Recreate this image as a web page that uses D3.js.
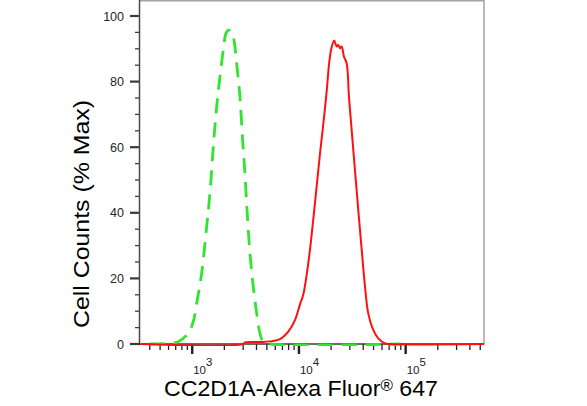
<!DOCTYPE html>
<html>
<head>
<meta charset="utf-8">
<script src="https://cdnjs.cloudflare.com/ajax/libs/d3/7.8.5/d3.min.js"></script>
<style>
  body { margin: 0; background: #fff; }
  text { font-family: "Liberation Sans", Arial, sans-serif; }
</style>
</head>
<body>
<script>
// Histogram values.
// x = fluorescence intensity, y = cell counts in % of max

// isotype / unstained control (green dashed)
var controlX = [400, 596, 739, 917, 1022, 1100, 1225, 1365, 1466, 1574, 1694, 1819, 1953,
                2070, 2175, 2340, 2460, 2607, 2799, 2966, 3118, 3275, 3473, 3731, 4015,
                4310, 4627, 5400, 90000];
var controlY = [0, 0.2, 0.7, 3.3, 6.8, 12.4, 21.5, 35.8, 46, 60, 72.3, 81.5, 89.6,
                94.7, 95.7, 95.2, 92.7, 85.6, 75.4, 62.2, 52, 39.8, 27.7, 17.5, 9.4,
                3.3, 0.7, 0, 0];

// CC2D1A stained sample (red)
var stainedX = [324, 3006, 3118, 4310, 5350, 6635, 7943, 9180, 10210, 10970, 11800, 12680,
                14130, 15740, 16900, 18190, 19240, 20250, 21420, 22550, 23350, 24220,
                25120, 26410, 27980, 29420, 31190, 33490, 35960, 38730, 41590, 44570, 49660,
                55340, 63970, 71250, 542000];
var stainedY = [0, 0, 0.5, 0.6, 0.8, 1.5, 3.8, 7.3, 12, 15, 21, 28.7,
                43, 58, 67, 77, 86, 90.5, 92.5, 90.7, 91.2, 90.2,
                90.7, 87.6, 85.6, 75.4, 65.2, 53, 40.9, 28.7, 17.5, 9.4, 4.3,
                1.7, 0.2, 0, 0];

var yTicks = [0, 20, 40, 60, 80, 100];
var xDecades = [1e3, 1e4, 1e5];
var xDecadeExp = ["3", "4", "5"];

// plot area (note: "top" is taken by window.top)
var pLeft = 140, pRight = 484, pTop = 0, pBottom = 344;

var svg = d3.select("body").append("svg")
    .attr("width", 587)
    .attr("height", 406);

var x = d3.scaleLog()
    .domain([324, 542000])
    .range([pLeft, pRight]);

var y = d3.scaleLinear()
    .domain([0, 100])
    .range([pBottom, 16]);

// clip the curves to the frame
svg.append("clipPath")
    .attr("id", "plotclip")
  .append("rect")
    .attr("x", pLeft)
    .attr("y", pTop)
    .attr("width", pRight - pLeft + 1)
    .attr("height", pBottom - pTop + 2);

// ****************** frame and axes ***************************

// grey frame on top and right
svg.append("path")
    .attr("d", "M " + pLeft + " " + (pTop + 0.75) + " H " + pRight + " V " + pBottom)
    .attr("fill", "none")
    .attr("stroke", "#a3a3a3")
    .attr("stroke-width", 1.5);

// y axis: major ticks every 20, minor every 5
var yMinor = d3.range(0, 105, 5);
svg.selectAll("line.yminor")
    .data(yMinor)
  .enter().append("line")
    .attr("class", "yminor")
    .attr("x1", function(d) { return d % 20 == 0 ? pLeft - 10 : pLeft - 5; })
    .attr("x2", pLeft)
    .attr("y1", function(d) { return y(d); })
    .attr("y2", function(d) { return y(d); })
    .attr("stroke", "#3a3a3a")
    .attr("stroke-width", function(d) { return d % 20 == 0 ? 2.2 : 1.3; });

svg.selectAll("text.ylab")
    .data(yTicks)
  .enter().append("text")
    .attr("class", "ylab")
    .attr("x", pLeft - 16)
    .attr("y", function(d) { return y(d); })
    .attr("dy", "0.36em")
    .attr("text-anchor", "end")
    .attr("font-size", 12.5)
    .attr("fill", "#262626")
    .text(function(d) { return d; });

svg.append("line")
    .attr("x1", pLeft - 0.5).attr("x2", pLeft - 0.5)
    .attr("y1", pTop).attr("y2", pBottom)
    .attr("stroke", "#4a4a4a")
    .attr("stroke-width", 1.5);

// x axis: log ticks, decades longer and thicker
var xt = x.ticks();
svg.selectAll("line.xtick")
    .data(xt)
  .enter().append("line")
    .attr("class", "xtick")
    .attr("x1", function(d) { return x(d); })
    .attr("x2", function(d) { return x(d); })
    .attr("y1", pBottom)
    .attr("y2", function(d) {
        return xDecades.indexOf(d) >= 0 ? pBottom + 10 : pBottom + 6;
    })
    .attr("stroke", "#222")
    .attr("stroke-width", function(d) {
        return xDecades.indexOf(d) >= 0 ? 2.4 : 1.3;
    });

var xl = svg.selectAll("text.xlab")
    .data(xDecades)
  .enter().append("text")
    .attr("class", "xlab")
    .attr("x", function(d) { return x(d) + 1; })
    .attr("y", pBottom + 30)
    .attr("font-size", 11.5)
    .attr("fill", "#222");
xl.append("tspan").text("10");
xl.append("tspan")
    .attr("dy", -8)
    .text(function(d, i) { return xDecadeExp[i]; });

svg.append("line")
    .attr("x1", pLeft - 10).attr("x2", pRight)
    .attr("y1", pBottom).attr("y2", pBottom)
    .attr("stroke", "#3a3a3a")
    .attr("stroke-width", 1.5);

// ****************** curves ***************************

var line = d3.line()
    .x(function(d) { return x(d[0]); })
    .y(function(d) { return y(d[1]); })
    .curve(d3.curveCatmullRom.alpha(0.5));

var plot = svg.append("g").attr("clip-path", "url(#plotclip)");

plot.append("path")
    .datum(d3.zip(controlX, controlY))
    .attr("d", line)
    .attr("fill", "none")
    .attr("stroke", "#2fe62f")
    .attr("stroke-width", 2.8)
    .attr("stroke-dasharray", "15,9");

plot.append("path")
    .datum(d3.zip(stainedX, stainedY))
    .attr("d", line)
    .attr("fill", "none")
    .attr("stroke", "#ff1010")
    .attr("stroke-width", 2);

// ****************** titles ***************************

var xTitle = svg.append("text")
    .attr("x", 301)
    .attr("y", 396)
    .attr("text-anchor", "middle")
    .attr("font-size", 22)
    .attr("textLength", 274)
    .attr("lengthAdjust", "spacingAndGlyphs")
    .attr("fill", "#000");
xTitle.append("tspan").text("CC2D1A-Alexa Fluor");
xTitle.append("tspan").attr("font-size", 16).attr("dy", -5).text("®");
xTitle.append("tspan").attr("dy", 5).text(" 647");

svg.append("text")
    .attr("transform", "translate(89,214) rotate(-90)")
    .attr("text-anchor", "middle")
    .attr("font-size", 22)
    .attr("textLength", 228)
    .attr("lengthAdjust", "spacingAndGlyphs")
    .attr("fill", "#000")
    .text("Cell Counts (% Max)");
</script>
</body>
</html>
